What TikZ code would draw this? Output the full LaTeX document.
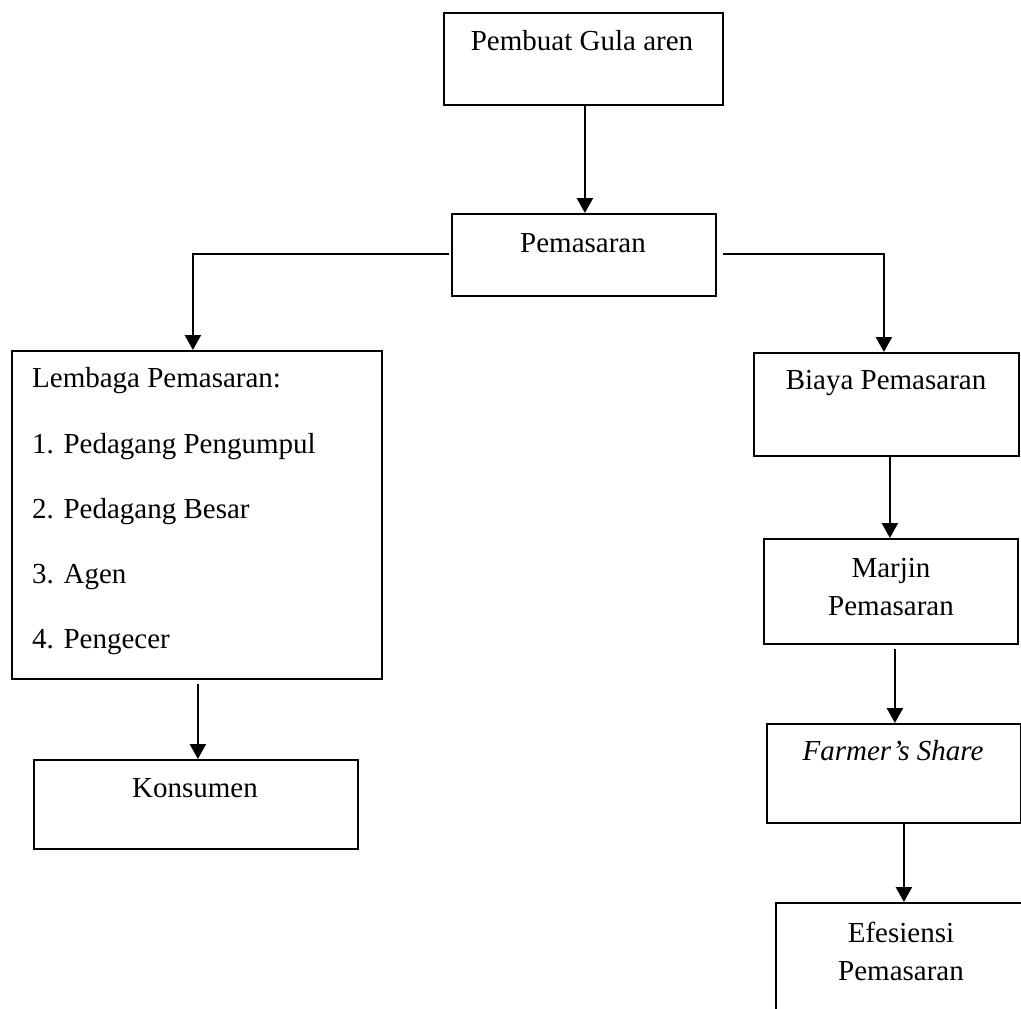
\documentclass[tikz,border=0pt]{standalone}
\usepackage{fontspec}
\setmainfont{Liberation Serif}
\usetikzlibrary{arrows.meta}
\begin{document}
\begin{tikzpicture}[x=1pt,y=-1pt,
  box/.style={draw, line width=1.8pt, inner sep=0pt, anchor=north west},
  txt/.style={inner sep=0pt, anchor=base, font=\fontsize{29}{38}\selectfont},
  ltxt/.style={txt, anchor=base west},
  arr/.style={line width=2.4pt, -{Triangle[width=16pt,length=15pt]}},
  con/.style={line width=2.4pt}]
\clip (0,0) rectangle (1021,1009);
\fill[white] (0,0) rectangle (1021,1009);
% boxes
\node[box, minimum width=279pt, minimum height=92pt] (top) at (443,12) {};
\node[box, minimum width=264pt, minimum height=82pt] (pem) at (451,213) {};
\node[box, minimum width=370pt, minimum height=328pt] (lem) at (11,350) {};
\node[box, minimum width=324pt, minimum height=89pt] (kon) at (33,759) {};
\node[box, minimum width=265pt, minimum height=103pt] (bia) at (753,352) {};
\node[box, minimum width=254pt, minimum height=105pt] (mar) at (763,538) {};
\node[box, minimum width=254pt, minimum height=99pt] (far) at (766,723) {};
\node[box, minimum width=252pt, minimum height=140pt] (efe) at (775,902) {};
% texts
\node[txt] (t1) at (582,50) {Pembuat Gula aren};
\node[txt] (t2) at (583,252) {Pemasaran};
\node[ltxt] (l0) at (32,387) {Lembaga Pemasaran:};
\node[ltxt] (l1) at (32,453) {1. Pedagang Pengumpul};
\node[ltxt] (l2) at (32,518) {2. Pedagang Besar};
\node[ltxt] (l3) at (32,583) {3. Agen};
\node[ltxt] (l4) at (32,648) {4. Pengecer};
\node[txt] (t3) at (195,797) {Konsumen};
\node[txt] (t4) at (886,389) {Biaya Pemasaran};
\node[txt] (t5a) at (891,577) {Marjin};
\node[txt] (t5b) at (891,615) {Pemasaran};
\node[txt, font=\fontsize{29}{38}\selectfont\itshape] (t6) at (893,760) {Farmer’s Share};
\node[txt] (t7a) at (901,942) {Efesiensi};
\node[txt] (t7b) at (901,980) {Pemasaran};
% connectors
\draw[arr] ([xshift=1.5pt]top.south) -- ([xshift=1.5pt]top.south |- pem.north);
\draw[arr] ([xshift=-2pt,yshift=1pt]pem.west) -| ([xshift=-4pt]lem.north);
\draw[arr] ([xshift=6pt,yshift=1pt]pem.east) -| ([xshift=-2.5pt]bia.north);
\draw[arr] ([xshift=3.5pt]bia.south) -- ([xshift=3.5pt]bia.south |- mar.north);
\draw[arr] ([xshift=4pt,yshift=-4pt]mar.south) -- ([xshift=4pt]mar.south |- far.north);
\draw[arr] ([xshift=10pt]far.south) -- ([xshift=10pt]far.south |- efe.north);
\draw[arr] ([xshift=1pt,yshift=-4pt]lem.south) -- ([xshift=1pt]lem.south |- kon.north);
\end{tikzpicture}
\end{document}
